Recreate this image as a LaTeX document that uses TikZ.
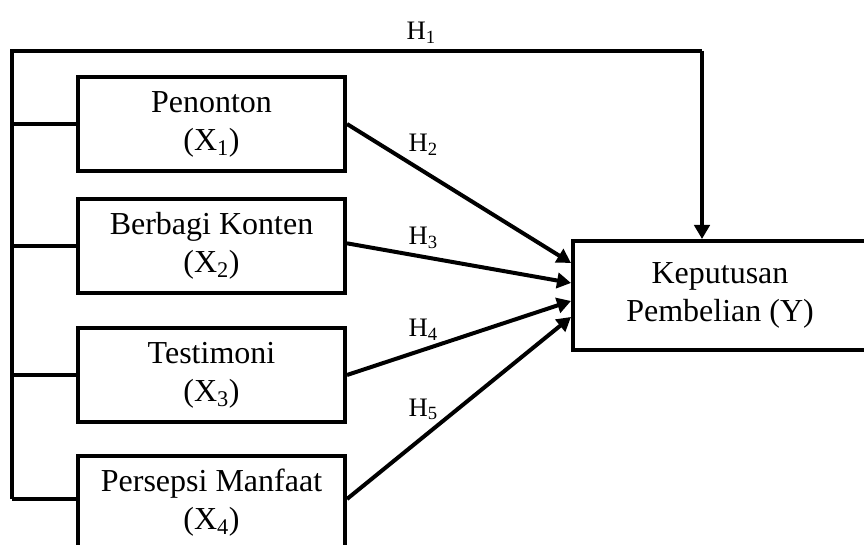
\documentclass[tikz,border=0pt]{standalone}
\usepackage{fontspec}
\setmainfont{Liberation Serif}
\usetikzlibrary{arrows.meta,calc}
\newcommand\hsub[1]{\raisebox{-2.5pt}{\fontsize{14}{16}\selectfont #1}}
\tikzset{
  varbox/.style={draw, line width=3pt, minimum width=200.25pt, minimum height=70.5pt, inner sep=0pt, align=center, font=\fontsize{24}{28.5}\selectfont},
  ybox/.style={draw, line width=3pt, minimum width=220.5pt, minimum height=81.75pt, inner sep=0pt, align=center, font=\fontsize{24}{28}\selectfont},
  link/.style={line width=3pt},
  arr/.style={line width=3pt, -{Triangle[length=10.5pt,width=11.5pt]}},
  hlab/.style={font=\fontsize{20}{24}\selectfont, inner sep=0pt, anchor=base}
}
\begin{document}
\begin{tikzpicture}[x=0.75pt,y=-0.75pt]
\useasboundingbox (0,0) rectangle (864,545);
\clip (0,0) rectangle (864,545);
\node[varbox] (X1) at (211.5,124) {Penonton\\(X\textsubscript{1})};
\node[varbox] (X2) at (211.5,246) {Berbagi Konten\\(X\textsubscript{2})};
\node[varbox] (X3) at (211.5,375) {Testimoni\\(X\textsubscript{3})};
\node[varbox] (X4) at (211.5,503) {Persepsi Manfaat\\(X\textsubscript{4})};
\node[ybox] (Y) at (720,295.5) {Keputusan\\Pembelian (Y)};
\coordinate (tl) at (12,51);
\coordinate (tr) at (702,51);
\coordinate (sb) at (12,499);
\draw[link] (sb) -- (tl) -- (tr);
\draw[arr] (tr) -- (tr |- Y.north);
\draw[link] (tl |- X1.west) -- (X1.west);
\draw[link] (tl |- X2.west) -- (X2.west);
\draw[link] (tl |- X3.west) -- (X3.west);
\draw[link] (sb) -- ([yshift=3pt]X4.west);
\draw[arr] (X1.east) -- ([yshift=24.4pt]Y.west);
\draw[arr] ([yshift=2pt]X2.east) -- ([yshift=9.4pt]Y.west);
\draw[arr] (X3.east) -- ([yshift=-4.1pt]Y.west);
\draw[arr] ([yshift=3pt]X4.east) -- ([yshift=-16.1pt]Y.west);
\node[hlab] (h1) at (421,40) {H\hsub{1}};
\node[hlab] (h2) at (423,152) {H\hsub{2}};
\node[hlab] (h3) at (423,245) {H\hsub{3}};
\node[hlab] (h4) at (423,337) {H\hsub{4}};
\node[hlab] (h5) at (423,416) {H\hsub{5}};
\end{tikzpicture}
\end{document}
